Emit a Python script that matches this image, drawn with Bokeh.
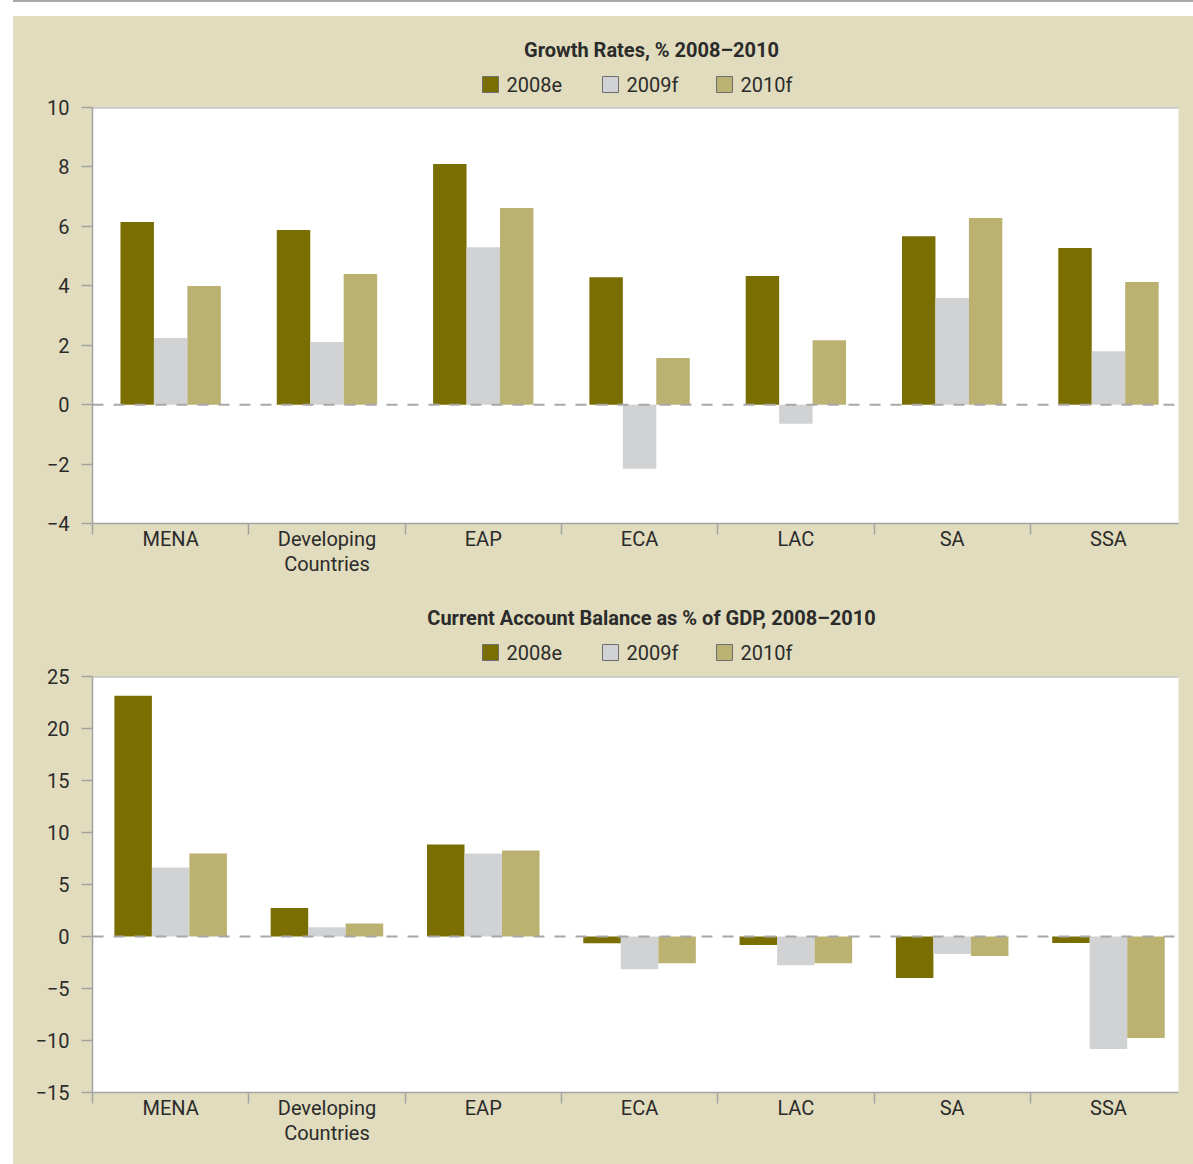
from bokeh.plotting import figure
from bokeh.models import Range1d, FixedTicker, Span, Spacer, Label
from bokeh.layouts import column
from bokeh.embed import file_html
from bokeh.resources import INLINE

# ---- data -----------------------------------------------------------------
categories = ["MENA", "Developing\nCountries", "EAP", "ECA", "LAC", "SA", "SSA"]
series = ["2008e", "2009f", "2010f"]

growth_2008e = [6.15, 5.88, 8.10, 4.29, 4.33, 5.67, 5.27]
growth_2009f = [2.24, 2.11, 5.30, -2.16, -0.64, 3.59, 1.80]
growth_2010f = [3.99, 4.40, 6.62, 1.57, 2.17, 6.28, 4.13]

cab_2008e = [23.15, 2.73, 8.84, -0.66, -0.82, -3.99, -0.63]
cab_2009f = [6.63, 0.90, 7.98, -3.16, -2.77, -1.69, -10.81]
cab_2010f = [7.98, 1.26, 8.27, -2.58, -2.58, -1.88, -9.75]

growth_ticks = [-4, -2, 0, 2, 4, 6, 8, 10]
cab_ticks = [-15, -10, -5, 0, 5, 10, 15, 20, 25]

# ---- styling ----------------------------------------------------------------
BEIGE = "#e1dcbd"
COLORS = ["#7b6e00", "#d1d2d4", "#bbb170"]
AXIS_GREY = "#a3a3a3"
TEXT = "#2b2b2b"
FONT = "Roboto"

WIDTH = 1180
HEADER_H = 80
BORDER_L, BORDER_R = 79, 15
FRAME_W = WIDTH - BORDER_L - BORDER_R
X_END = 6.948                    # visible category span
KEY_LEFT = [390, 510, 624]       # legend key positions across the plot area, px
KEY_SIZE = 16


def minus(v):
    return str(v).replace("-", "\u2212")


def bar_positions(k, bar_w):
    return [i + 0.5 + (k - 1) * bar_w for i in range(len(categories))]


def header(title_text, title_from_top, legend_from_top):
    """Title and legend strip drawn above a chart (x measured in px across the plot area)."""
    h = figure(width=WIDTH, height=HEADER_H, output_backend="svg", toolbar_location=None,
               x_range=Range1d(0, FRAME_W), y_range=Range1d(0, HEADER_H),
               x_axis_location=None, y_axis_location=None,
               min_border_left=BORDER_L, min_border_right=BORDER_R,
               min_border_top=0, min_border_bottom=0,
               outline_line_color=BEIGE, outline_line_width=2,
               background_fill_color=BEIGE, border_fill_color=BEIGE)
    h.grid.visible = False
    h.add_layout(Label(x=559, y=HEADER_H - title_from_top, text=title_text,
                       text_align="center", text_baseline="middle",
                       text_font=FONT, text_font_size="20px", text_font_style="bold",
                       text_color=TEXT))
    key_y = HEADER_H - legend_from_top
    h.rect(x=[k + KEY_SIZE / 2 for k in KEY_LEFT], y=[key_y] * len(series),
           width=KEY_SIZE, height=KEY_SIZE, fill_color=COLORS,
           line_color="#6e6e6e", line_width=1)
    for k, name in zip(KEY_LEFT, series):
        h.add_layout(Label(x=k + KEY_SIZE + 8, y=key_y, text=name,
                           text_align="left", text_baseline="middle",
                           text_font=FONT, text_font_size="20px", text_color=TEXT))
    return h


def chart(values, ticks, lo, hi, bar_w, height, bottom_border):
    p = figure(width=WIDTH, height=height, output_backend="svg", toolbar_location=None,
               x_range=Range1d(0, X_END), y_range=Range1d(lo, hi),
               min_border_left=BORDER_L, min_border_right=BORDER_R, min_border_top=11,
               min_border_bottom=bottom_border,
               background_fill_color="white", border_fill_color=BEIGE,
               outline_line_color=None)
    p.grid.visible = False

    for k, (vals, color) in enumerate(zip(values, COLORS)):
        p.vbar(x=bar_positions(k, bar_w), top=vals, bottom=0, width=bar_w,
               fill_color=color, line_color=None)

    # zero line and top border of the plot area
    p.add_layout(Span(location=0, dimension="width", line_color="#a8a8a8",
                      line_width=2, line_dash="11 10"))
    p.add_layout(Span(location=hi, dimension="width", line_color=AXIS_GREY,
                      line_width=2))

    ya = p.yaxis[0]
    ya.ticker = FixedTicker(ticks=ticks, minor_ticks=[])
    ya.major_label_overrides = {t: minus(t) for t in ticks}
    ya.axis_line_color = AXIS_GREY
    ya.axis_line_width = 1.5
    ya.major_tick_line_color = AXIS_GREY
    ya.major_tick_line_width = 1.5
    ya.major_tick_out = 11
    ya.major_tick_in = 0
    ya.major_label_standoff = 12
    ya.major_label_text_font = FONT
    ya.major_label_text_font_size = "20px"
    ya.major_label_text_color = TEXT

    n = len(categories)
    xa = p.xaxis[0]
    xa.ticker = FixedTicker(ticks=[i + 0.5 for i in range(n)],
                            minor_ticks=list(range(n)))
    xa.major_label_overrides = {i + 0.5: c for i, c in enumerate(categories)}
    xa.axis_line_color = AXIS_GREY
    xa.axis_line_width = 1.5
    xa.major_tick_line_color = None
    xa.major_tick_out = 0
    xa.major_tick_in = 0
    xa.minor_tick_line_color = AXIS_GREY
    xa.minor_tick_line_width = 1.5
    xa.minor_tick_out = 11
    xa.minor_tick_in = 0
    xa.major_label_standoff = -8
    xa.major_label_text_font = FONT
    xa.major_label_text_font_size = "20px"
    xa.major_label_text_line_height = 1.05
    xa.major_label_text_color = TEXT
    return p


growth = [growth_2008e, growth_2009f, growth_2010f]
cab = [cab_2008e, cab_2009f, cab_2010f]

h1 = header("Growth Rates, % 2008\u20132010", 33.5, 68)
p1 = chart(growth, growth_ticks, -4, 10, 0.214, 489, 62)
h2 = header("Current Account Balance as % of GDP, 2008\u20132010", 32, 67)
p2 = chart(cab, cab_ticks, -15, 25, 0.24, 499, 72)

panel = column(h1, p1, h2, p2, spacing=0, styles={"background-color": BEIGE})
rule = Spacer(width=WIDTH, height=2, styles={"background-color": "#a7a9ac"})
gap = Spacer(width=WIDTH, height=14)
page = column(rule, gap, panel, spacing=0, margin=(0, 0, 0, 13))

open("out.html", "w").write(file_html(page, INLINE))
